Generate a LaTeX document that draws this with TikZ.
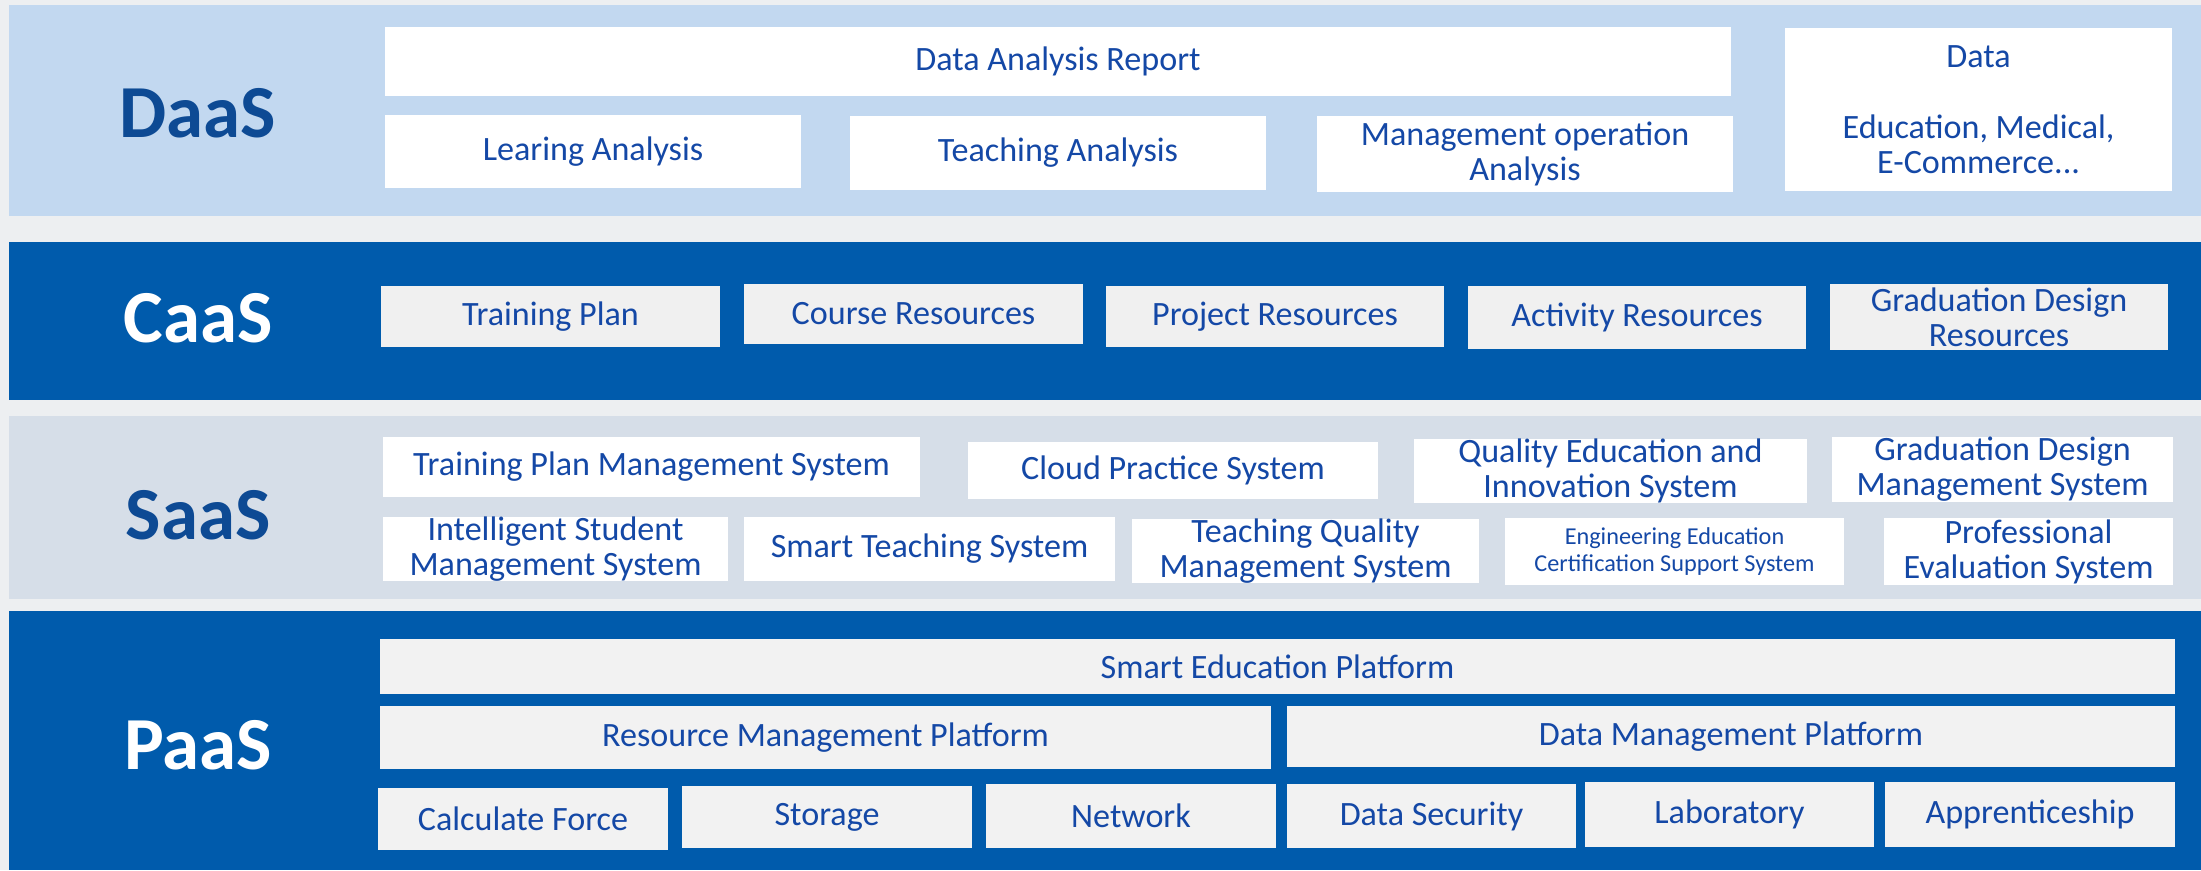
\documentclass[tikz,border=0pt]{standalone}
\usepackage{fontspec}
\setmainfont{Carlito}
\definecolor{bgc}{HTML}{EDEFF1}
\definecolor{daasband}{HTML}{C2D8F0}
\definecolor{darkband}{HTML}{005BAC}
\definecolor{saasband}{HTML}{D6DEE8}
\definecolor{txt}{HTML}{1448A6}
\definecolor{lbl}{HTML}{0D4A94}
\definecolor{cbox}{HTML}{F0F0F0}
\definecolor{pbox}{HTML}{F2F2F2}
\newcommand\bx[7]{\node[box,#6,minimum width={(#4-#2)*0.1mm},minimum height={(#5-#3)*0.1mm}] (#1) at ({(#2+#4)/2},{(#3+#5)/2+2}) {#7};}
\begin{document}
\begin{tikzpicture}[x=0.1mm,y=-0.1mm,
  box/.style={inner sep=0pt,outer sep=0pt,align=center,text=txt,font=\fontsize{9.7}{10}\selectfont},
  small/.style={font=\fontsize{6.9}{7.8}\selectfont},
  band/.style={inner sep=0pt,outer sep=0pt,anchor=north west},
  layer/.style={font=\fontsize{21.3}{24}\selectfont\bfseries}]
\useasboundingbox (0,0) rectangle (2201,870);
\fill[bgc] (0,0) rectangle (2201,870);
% bands
\node[band,fill=daasband,minimum width={2192*0.1mm},minimum height={211*0.1mm}] (bd) at (9,5) {};
\node[band,fill=darkband,minimum width={2192*0.1mm},minimum height={158*0.1mm}] (bc) at (9,242) {};
\node[band,fill=saasband,minimum width={2192*0.1mm},minimum height={183*0.1mm}] (bs) at (9,416) {};
\node[band,fill=darkband,minimum width={2192*0.1mm},minimum height={259*0.1mm}] (bp) at (9,611) {};
% labels
\node[layer,text=lbl] (ld) at (198,113) {DaaS};
\node[layer,text=white] (lc) at (198,318) {CaaS};
\node[layer,text=lbl] (ls) at (198,515) {SaaS};
\node[layer,text=white] (lp) at (198,745) {PaaS};
% DaaS
\bx{dar}{385}{25}{1731}{94}{fill=white}{Data Analysis Report}
\bx{la}{385}{113}{801}{186}{fill=white}{Learing Analysis}
\bx{ta}{850}{114}{1266}{188}{fill=white}{Teaching Analysis}
\bx{moa}{1317}{114}{1733}{190}{fill=white}{Management operation\\Analysis}
\bx{data}{1785}{26}{2172}{189}{fill=white}{Data\\[10.2pt]Education, Medical,\\E-Commerce...}
% CaaS
\bx{tp}{381}{284}{720}{345}{fill=cbox}{Training Plan}
\bx{cr}{744}{282}{1083}{342}{fill=cbox}{Course Resources}
\bx{pr}{1106}{284}{1444}{345}{fill=cbox}{Project Resources}
\bx{ar}{1468}{284}{1806}{347}{fill=cbox}{Activity Resources}
\bx{gdr}{1830}{282}{2168}{348}{fill=cbox}{Graduation Design\\Resources}
% SaaS
\bx{tpms}{383}{435}{920}{495}{fill=white}{Training Plan Management System}
\bx{cps}{968}{440}{1378}{497}{fill=white}{Cloud Practice System}
\bx{qeis}{1414}{440}{1807}{498}{fill=white}{Quality Education and\\Innovation System}
\bx{gdms}{1832}{440}{2173}{495}{fill=white}{Graduation Design\\Management System}
\bx{isms}{383}{517}{728}{577}{fill=white}{Intelligent Student\\Management System}
\bx{sts}{744}{515}{1115}{579}{fill=white}{Smart Teaching System}
\bx{tqms}{1132}{517}{1479}{581}{fill=white}{Teaching Quality\\Management System}
\bx{eecs}{1505}{516}{1844}{583}{fill=white,small}{Engineering Education\\Certification Support System}
\bx{pes}{1884}{516}{2173}{583}{fill=white}{Professional\\Evaluation System}
% PaaS
\bx{sep}{380}{637}{2175}{692}{fill=pbox}{Smart Education Platform}
\bx{rmp}{380}{704}{1271}{767}{fill=pbox}{Resource Management Platform}
\bx{dmp}{1287}{704}{2175}{765}{fill=pbox}{Data Management Platform}
\bx{cf}{378}{786}{668}{848}{fill=pbox}{Calculate Force}
\bx{st}{682}{784}{972}{846}{fill=pbox}{Storage}
\bx{nw}{986}{782}{1276}{846}{fill=pbox}{Network}
\bx{ds}{1287}{782}{1576}{846}{fill=pbox}{Data Security}
\bx{lab}{1585}{780}{1874}{845}{fill=pbox}{Laboratory}
\bx{app}{1885}{780}{2175}{845}{fill=pbox}{Apprenticeship}
\end{tikzpicture}
\end{document}
